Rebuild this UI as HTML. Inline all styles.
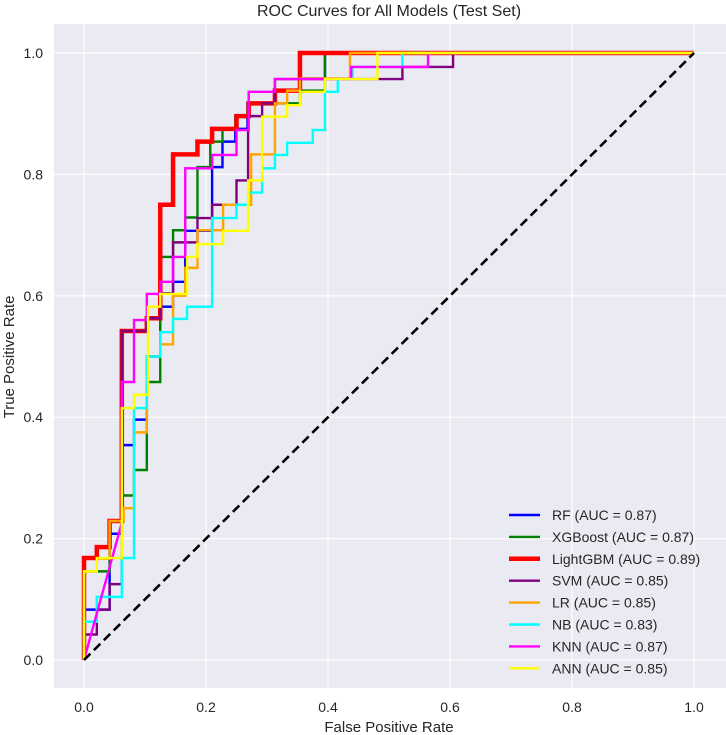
<!DOCTYPE html>
<html><head><meta charset="utf-8"><style>
body{margin:0;background:#fff;}
svg{display:block;font-family:"Liberation Sans",sans-serif;}
</style></head><body>
<svg id="chart" width="726" height="735">
<rect x="54" y="24" width="672" height="664" fill="#eaeaf2"/>
<g id="grid"></g><g id="ticks"></g><g id="series"></g>
<text x="389" y="16" font-size="16" text-anchor="middle" fill="#262626">ROC Curves for All Models (Test Set)</text>
<text x="389" y="732" font-size="15" text-anchor="middle" fill="#262626">False Positive Rate</text>
<text x="14" y="357" font-size="15" text-anchor="middle" fill="#262626" transform="rotate(-90 14 357)">True Positive Rate</text>
<g id="legend"></g>
</svg>
<script>
const ticks=[0,0.2,0.4,0.6,0.8,1.0];
const tickLabels=["0.0","0.2","0.4","0.6","0.8","1.0"];
const names=["RF","XGBoost","LightGBM","SVM","LR","NB","KNN","ANN"];
const aucs=["0.87","0.87","0.89","0.85","0.85","0.83","0.87","0.85"];
const colors=["#0000ff","#008000","#ff0000","#800080","#ffa500","#00ffff","#ff00ff","#ffff00"];
const rfPts=[[0,0],[0,.083],[.042,.083],[.042,.208],[.062,.208],[.062,.354],[.082,.354],[.082,.396],[.103,.396],[.103,.5],[.125,.5],[.125,.582],[.146,.582],[.146,.623],[.166,.623],[.166,.707],[.21,.707],[.21,.812],[.227,.812],[.227,.854],[.248,.854],[.248,.875],[.268,.875],[.268,.917],[.313,.917],[.313,.938],[.354,.938],[.354,.958],[.395,.958],[.395,1],[1,1]];
const xgbPts=[[0,0],[0,.146],[.042,.146],[.042,.229],[.062,.229],[.062,.271],[.082,.271],[.082,.313],[.103,.313],[.103,.458],[.125,.458],[.125,.664],[.146,.664],[.146,.708],[.166,.708],[.166,.729],[.186,.729],[.186,.812],[.207,.812],[.207,.854],[.227,.854],[.227,.875],[.248,.875],[.248,.896],[.268,.896],[.268,.917],[.354,.917],[.354,.938],[.395,.938],[.395,1],[1,1]];
const lgbmPts=[[0,0],[0,.168],[.021,.168],[.021,.186],[.042,.186],[.042,.229],[.062,.229],[.062,.542],[.103,.542],[.103,.563],[.125,.563],[.125,.75],[.146,.75],[.146,.833],[.186,.833],[.186,.854],[.21,.854],[.21,.875],[.25,.875],[.25,.896],[.27,.896],[.27,.917],[.313,.917],[.313,.938],[.354,.938],[.354,1],[1,1]];
const svmPts=[[0,0],[0,.042],[.021,.042],[.021,.083],[.042,.083],[.042,.125],[.062,.125],[.062,.542],[.103,.542],[.103,.563],[.125,.563],[.125,.604],[.146,.604],[.146,.688],[.186,.688],[.186,.728],[.21,.728],[.21,.75],[.25,.75],[.25,.79],[.269,.79],[.269,.896],[.292,.896],[.292,.917],[.313,.917],[.313,.957],[.522,.957],[.522,.977],[.605,.977],[.605,1],[1,1]];
const lrPts=[[0,0],[0,.146],[.021,.146],[.021,.167],[.042,.167],[.042,.229],[.065,.229],[.065,.25],[.082,.25],[.082,.375],[.103,.375],[.103,.5],[.125,.5],[.125,.52],[.146,.52],[.146,.6],[.166,.6],[.166,.646],[.186,.646],[.186,.708],[.228,.708],[.228,.75],[.274,.75],[.274,.833],[.313,.833],[.313,.917],[.333,.917],[.333,.938],[.354,.938],[.354,.958],[.436,.958],[.436,1],[1,1]];
const nbPts=[[0,0],[0,.063],[.021,.063],[.021,.104],[.062,.104],[.062,.168],[.082,.168],[.082,.415],[.103,.415],[.103,.5],[.125,.5],[.125,.54],[.146,.54],[.146,.562],[.169,.562],[.169,.582],[.21,.582],[.21,.728],[.25,.728],[.25,.75],[.269,.75],[.269,.77],[.292,.77],[.292,.81],[.313,.81],[.313,.832],[.333,.832],[.333,.852],[.375,.852],[.375,.873],[.395,.873],[.395,.936],[.416,.936],[.416,.957],[.44,.957],[.44,.977],[.522,.977],[.522,1],[1,1]];
const knnPts=[[0,0],[.062,.226],[.062,.458],[.082,.458],[.082,.56],[.103,.56],[.103,.603],[.125,.603],[.125,.623],[.146,.623],[.146,.664],[.166,.664],[.166,.81],[.21,.81],[.21,.832],[.25,.832],[.25,.873],[.27,.873],[.27,.936],[.313,.936],[.313,.957],[.438,.957],[.438,.977],[.564,.977],[.564,1],[1,1]];
const annPts=[[0,0],[0,.146],[.021,.146],[.021,.168],[.062,.168],[.062,.415],[.082,.415],[.082,.437],[.105,.437],[.105,.582],[.125,.582],[.125,.603],[.169,.603],[.169,.664],[.186,.664],[.186,.685],[.228,.685],[.228,.707],[.269,.707],[.269,.79],[.292,.79],[.292,.895],[.333,.895],[.333,.914],[.354,.914],[.354,.936],[.395,.936],[.395,.957],[.481,.957],[.481,1],[1,1]];
const allPts=[rfPts,xgbPts,lgbmPts,svmPts,lrPts,nbPts,knnPts,annPts];
const NS="http://www.w3.org/2000/svg";
const X0=84,X1=694,Y0=660,Y1=53;
function sx(v){return X0+v*(X1-X0);}
function sy(v){return Y0-v*(Y0-Y1);}
function mk(t,a,p){const e=document.createElementNS(NS,t);for(const k in a)e.setAttribute(k,a[k]);p.appendChild(e);return e;}
const grid=document.getElementById('grid'),tk=document.getElementById('ticks');
ticks.forEach((t,i)=>{
 let g=mk('line',{x1:sx(t),x2:sx(t),y1:24,y2:688,stroke:'#fff','stroke-width':1.2},grid);
 
 
 g=mk('line',{x1:54,x2:726,y1:sy(t),y2:sy(t),stroke:'#fff','stroke-width':1.2},grid);
 
 
 let l=mk('text',{x:sx(t),y:712,'font-size':14,'text-anchor':'middle',fill:'#262626'},tk);
 l.textContent=tickLabels[i];
 
 
 l=mk('text',{x:43,y:sy(t)+5,'font-size':14,'text-anchor':'end',fill:'#262626'},tk);
 l.textContent=tickLabels[i];
 
 
});
const ser=document.getElementById('series');
allPts.forEach((pts,i)=>{
 const p=mk('polyline',{points:pts.map(q=>sx(q[0])+','+sy(q[1])).join(' '),fill:'none',stroke:colors[i],'stroke-width':i===2?4.5:2.4,'stroke-linejoin':'miter'},ser);
 
 
});
const d=mk('line',{x1:sx(0),y1:sy(0),x2:sx(1),y2:sy(1),stroke:'#000','stroke-width':2.6,'stroke-dasharray':'9,5'},ser);


const lg=document.getElementById('legend');
names.forEach((n,i)=>{
 const y=515+i*21.9;
 const ln=mk('line',{x1:509,x2:540,y1:y,y2:y,stroke:colors[i],'stroke-width':i===2?4.5:2.4},lg);
 
 
 const t=mk('text',{x:552,y:y+5,'font-size':14,fill:'#262626'},lg);
 t.textContent=n+' (AUC = '+aucs[i]+')';
 
 
});
</script>
</body></html>
